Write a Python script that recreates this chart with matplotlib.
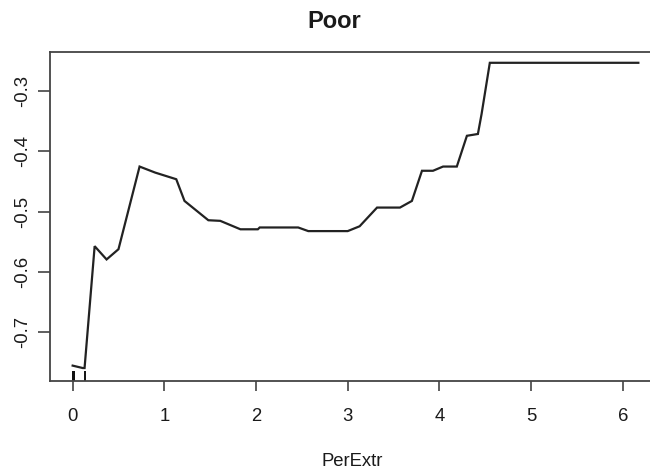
import matplotlib
matplotlib.use('Agg')
import matplotlib.pyplot as plt

# partial dependence of class "Poor" on PerExtr
per_extr = [0.00, 0.11, 0.13, 0.24, 0.37, 0.50, 0.73, 0.90, 1.13, 1.22,
            1.35, 1.48, 1.61, 1.83, 2.02, 2.04, 2.46, 2.57, 3.00, 3.13,
            3.32, 3.57, 3.70, 3.81, 3.93, 4.04, 4.19, 4.30, 4.42,
            4.46, 4.55, 6.17]
partial = [-0.755, -0.759, -0.759, -0.557, -0.579, -0.562, -0.425, -0.435, -0.446, -0.482,
           -0.498, -0.514, -0.515, -0.529, -0.529, -0.526, -0.526, -0.532, -0.532, -0.524,
           -0.493, -0.493, -0.482, -0.432, -0.432, -0.425, -0.425, -0.374, -0.371,
           -0.338, -0.253, -0.253]

# deciles of PerExtr shown as a rug
rug_vals = [0.0, 0.0, 0.0, 0.0, 0.005, 0.01, 0.015, 0.02, 0.134]

x_ticks = [0, 1, 2, 3, 4, 5, 6]
y_ticks = [-0.7, -0.6, -0.5, -0.4, -0.3]
y_tick_labels = ['-0.7', '-0.6', '-0.5', '-0.4', '-0.3']

plt.rcParams.update({
    'font.family': ['Liberation Sans', 'DejaVu Sans'],
    'font.size': 13.3,
    'text.color': '#1a1a1a',
    'xtick.color': '#333333',
    'ytick.color': '#333333',
    'xtick.labelcolor': '#1a1a1a',
    'ytick.labelcolor': '#1a1a1a',
})

W, H = 650, 470
fig = plt.figure(figsize=(W / 100, H / 100), dpi=100)
# plot box runs past the right edge of the figure
ax = fig.add_axes([50 / W, 1 - 380.7 / H, 611 / W, (380.7 - 51.7) / H])

ax.plot(per_extr, partial, color='#222222', linewidth=1.6, solid_joinstyle='miter')

# rug ticks pointing up from the x axis
ymin, ymax = -0.780, -0.2346
rug_len = 0.03 * (ymax - ymin)
ax.vlines(rug_vals, ymin, ymin + rug_len, color='#111111', linewidth=1.4)

ax.set_xlim(-0.247, 6.417)
ax.set_ylim(ymin, ymax)
ax.set_xticks(x_ticks)
ax.set_yticks(y_ticks)
ax.set_yticklabels(y_tick_labels)

for side in ['left', 'bottom', 'top']:
    ax.spines[side].set_color('#444444')
    ax.spines[side].set_linewidth(1.3)
ax.spines['right'].set_visible(False)

ax.tick_params(axis='x', direction='out', length=7.5, width=1.1, pad=12)
ax.tick_params(axis='y', direction='out', length=8.5, width=1.1, pad=5, labelrotation=90)
for lab in ax.get_yticklabels():
    lab.set_va('center')

fig.text(334 / W, 1 - 28.5 / H, 'Poor', ha='center', va='baseline',
         fontsize=17, fontweight='bold')
fig.text(352 / W, 1 - 466 / H, 'PerExtr', ha='center', va='baseline', fontsize=13.3)

fig.savefig('out.png', dpi=100)
